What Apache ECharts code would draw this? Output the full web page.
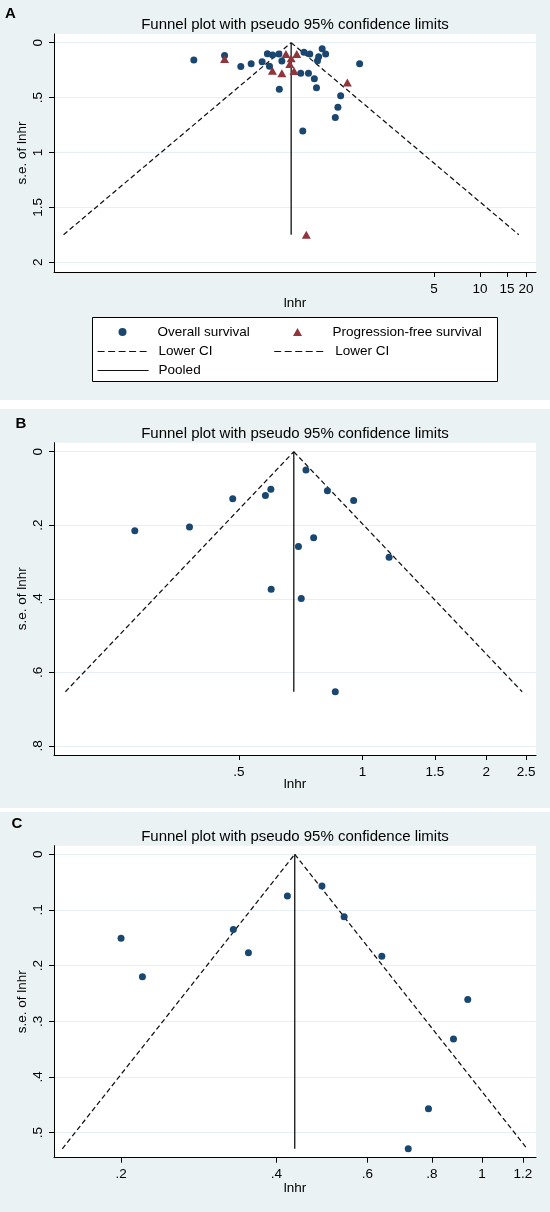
<!DOCTYPE html>
<html>
<head>
<meta charset="utf-8">
<script src="https://cdn.jsdelivr.net/npm/echarts@6/dist/echarts.min.js"></script>
<style>
html,body{margin:0;padding:0;background:#fff;}
#chart{width:550px;height:1212px;}
</style>
</head>
<body>
<div id="chart"></div>
<script>
// ---------- DATA (hazard ratio on log axis, standard error of ln HR) ----------
const TITLE = 'Funnel plot with pseudo 95% confidence limits';
const PANEL_LABELS = ['A', 'B', 'C'];

// Panel A
const A_OS_HR  = [0.134, 0.213, 0.272, 0.318, 0.375, 0.406, 0.419, 0.439, 0.483, 0.505, 0.486, 0.705, 0.769, 0.671, 0.754, 0.824, 0.851, 0.864, 0.879, 0.927, 0.977, 1.63, 1.225, 1.175, 1.13, 0.692];
const A_OS_SE  = [0.158, 0.118, 0.218, 0.191, 0.173, 0.100, 0.215, 0.112, 0.103, 0.167, 0.425, 0.088, 0.103, 0.279, 0.279, 0.328, 0.410, 0.164, 0.128, 0.055, 0.103, 0.191, 0.483, 0.588, 0.683, 0.804];
const A_PFS_HR = [0.213, 0.438, 0.505, 0.537, 0.581, 0.632, 0.569, 0.607, 1.355, 0.730];
const A_PFS_SE = [0.149, 0.255, 0.279, 0.103, 0.142, 0.103, 0.194, 0.258, 0.364, 1.75];
const A_POOLED = 0.581;
const A_SE_MAX = 1.75;
const A_X_TICKS = [5, 10, 15, 20];
const A_Y_TICKS = [0, 0.5, 1, 1.5, 2];

// Panel B
const B_HR = [0.728, 0.598, 0.580, 0.483, 0.821, 0.951, 0.379, 0.279, 0.760, 0.698, 1.16, 0.599, 0.709, 0.858];
const B_SE = [0.050, 0.102, 0.119, 0.128, 0.106, 0.133, 0.205, 0.215, 0.234, 0.258, 0.287, 0.374, 0.399, 0.653];
const B_POOLED = 0.68;
const B_SE_MAX = 0.653;
const B_X_TICKS = [0.5, 1, 1.5, 2, 2.5];
const B_Y_TICKS = [0, 0.2, 0.4, 0.6, 0.8];

// Panel C
const C_HR = [0.490, 0.420, 0.541, 0.330, 0.200, 0.353, 0.640, 0.220, 0.939, 0.881, 0.788, 0.720];
const C_SE = [0.057, 0.075, 0.112, 0.135, 0.151, 0.177, 0.183, 0.220, 0.261, 0.332, 0.457, 0.529];
const C_POOLED = 0.434;
const C_SE_MAX = 0.529;
const C_X_TICKS = [0.2, 0.4, 0.6, 0.8, 1, 1.2];
const C_Y_TICKS = [0, 0.1, 0.2, 0.3, 0.4, 0.5];

const LEGEND_NAMES = ['Overall survival', 'Progression-free survival', 'Lower CI', 'Lower CI ', 'Pooled'];

// ---------- STYLE ----------
const FONT = "'Liberation Sans', Arial, sans-serif";
const NAVY = '#1a476f';
const MAROON = '#90353b';
const BG = '#eaf2f3';
const GRIDC = '#e6eff1';
const INK = '#000';
const LINEC = '#111';
const Z = 1.959964;

const panels = [
  {hr: A_OS_HR, se: A_OS_SE, hr2: A_PFS_HR, se2: A_PFS_SE, pooled: A_POOLED, seMax: A_SE_MAX,
   xt: A_X_TICKS, yt: A_Y_TICKS, xmin: 0.01629, xmax: 23.26, ymin: -0.079, ymax: 2.09, nameGap: 24,
   grid: {left: 54, top: 34, width: 482, height: 238}, rect: [0, 0, 550, 400], titleY: 24.5, lab: [10.5, 13.5]},
  {hr: B_HR, se: B_SE, pooled: B_POOLED, seMax: B_SE_MAX,
   xt: B_X_TICKS, yt: B_Y_TICKS, xmin: 0.1774, xmax: 2.642, ymin: -0.0245, ymax: 0.825, nameGap: 22,
   grid: {left: 54, top: 442.7, width: 482, height: 312.3}, rect: [0, 409, 550, 399], titleY: 434, lab: [21, 424]},
  {hr: C_HR, se: C_SE, pooled: C_POOLED, seMax: C_SE_MAX,
   xt: C_X_TICKS, yt: C_Y_TICKS, xmin: 0.1483, xmax: 1.273, ymin: -0.0154, ymax: 0.545, nameGap: 23.5,
   grid: {left: 54, top: 845.7, width: 482, height: 312}, rect: [0, 812, 550, 400], titleY: 836.8, lab: [17, 824]}
];

function fmt(v) {
  let s = String(+(+v).toFixed(4));
  return s.replace(/^0\./, '.');
}

const grids = [], xAxes = [], yAxes = [], series = [], titles = [], graphics = [];

panels.forEach((p, i) => {
  graphics.push({type: 'rect', shape: {x: p.rect[0], y: p.rect[1], width: p.rect[2], height: p.rect[3]},
                 style: {fill: BG}, z: -10, silent: true});
  grids.push(Object.assign({show: true, backgroundColor: '#fff', borderWidth: 0, containLabel: false}, p.grid));
  titles.push({text: TITLE, left: p.grid.left + p.grid.width / 2, top: p.titleY - 9, textAlign: 'center', padding: 0,
               textStyle: {fontFamily: FONT, fontSize: 15, fontWeight: 'normal', color: INK, lineHeight: 18}});
  titles.push({text: PANEL_LABELS[i], left: p.lab[0], top: p.lab[1] - 8, textAlign: 'center', padding: 0,
               textStyle: {fontFamily: FONT, fontSize: 15, fontWeight: 'bold', color: INK, lineHeight: 16}});
  xAxes.push({
    type: 'log', logBase: 10, gridIndex: i, min: p.xmin, max: p.xmax,
    axisLine: {show: true, onZero: false, lineStyle: {color: INK, width: 1}},
    axisTick: {show: true, length: 5, customValues: p.xt, lineStyle: {color: INK}},
    axisLabel: {customValues: p.xt, formatter: fmt, margin: 10, color: INK, fontSize: 13.5, fontFamily: FONT},
    splitLine: {show: false}, minorTick: {show: false}, minorSplitLine: {show: false},
    name: 'lnhr', nameLocation: 'middle', nameGap: p.nameGap, nameMoveOverlap: false,
    nameTextStyle: {fontFamily: FONT, fontSize: 13.5, color: INK}
  });
  yAxes.push({
    type: 'value', gridIndex: i, inverse: true, min: p.ymin, max: p.ymax,
    axisLine: {show: true, onZero: false, lineStyle: {color: INK, width: 1}},
    axisTick: {show: true, length: 5, customValues: p.yt, lineStyle: {color: INK}},
    axisLabel: {customValues: p.yt, formatter: fmt, rotate: 90, margin: 9, color: INK, fontSize: 13.5, fontFamily: FONT},
    splitLine: {show: true, lineStyle: {color: GRIDC, width: 1}},
    name: 's.e. of lnhr', nameLocation: 'middle', nameGap: 25, nameRotate: 90, nameMoveOverlap: false,
    nameTextStyle: {fontFamily: FONT, fontSize: 13.5, color: INK}
  });

  const lo = p.pooled * Math.exp(-Z * p.seMax);
  const hi = p.pooled * Math.exp(Z * p.seMax);
  const dash = {color: LINEC, width: 1.25, type: [5, 3]};
  series.push({name: 'Lower CI', type: 'line', xAxisIndex: i, yAxisIndex: i, symbol: 'none', silent: true,
               data: [[lo, p.seMax], [p.pooled, 0]], lineStyle: dash, z: 3});
  series.push({name: 'Lower CI ', type: 'line', xAxisIndex: i, yAxisIndex: i, symbol: 'none', silent: true,
               data: [[p.pooled, 0], [hi, p.seMax]], lineStyle: dash, z: 3});
  series.push({name: 'Pooled', type: 'line', xAxisIndex: i, yAxisIndex: i, symbol: 'none', silent: true,
               data: [[p.pooled, 0], [p.pooled, p.seMax]], lineStyle: {color: LINEC, width: 1.3, type: 'solid'}, z: 3});
  series.push({name: 'Overall survival', type: 'scatter', xAxisIndex: i, yAxisIndex: i, symbol: 'circle', symbolSize: 7,
               itemStyle: {color: NAVY, opacity: 1}, data: p.hr.map((h, k) => [h, p.se[k]]), z: 4});
  if (p.hr2) {
    series.push({name: 'Progression-free survival', type: 'scatter', xAxisIndex: i, yAxisIndex: i, symbol: 'triangle',
                 symbolSize: [9, 8], itemStyle: {color: MAROON, opacity: 1}, data: p.hr2.map((h, k) => [h, p.se2[k]]), z: 5});
  }
});

// legend frame (panel A)
graphics.push({type: 'rect', shape: {x: 92.5, y: 317.5, width: 405, height: 64},
               style: {fill: '#fff', stroke: '#000', lineWidth: 1}, z: 1, silent: true});

const hidden = {color: 'rgba(0,0,0,0)', opacity: 0, borderWidth: 0};
const legendText = (w, pl) => ({fontFamily: FONT, fontSize: 13.5, color: INK, width: w, height: 9, lineHeight: 9,
                                overflow: 'none', padding: [0, 0, 0, pl]});
const lineLegend = (top, items) => ({
  left: 97, top: top, width: 400, orient: 'horizontal', padding: 0,
  itemGap: 15, itemWidth: 51, itemHeight: 9, selectedMode: false,
  textStyle: legendText(100, 5), data: items
});

const option = {
  animation: false,
  backgroundColor: '#fff',
  title: titles,
  grid: grids,
  xAxis: xAxes,
  yAxis: yAxes,
  series: series,
  graphic: graphics,
  legend: [
    {
      left: 118.5, top: 325, width: 400, orient: 'horizontal', padding: 0,
      itemGap: 15, itemWidth: 9, itemHeight: 8, selectedMode: false,
      textStyle: legendText(120.5, 25.5),
      data: [
        {name: LEGEND_NAMES[0], icon: 'circle', itemStyle: {color: NAVY}},
        {name: LEGEND_NAMES[1], icon: 'triangle', itemStyle: {color: MAROON}}
      ]
    },
    lineLegend(344.5, [
      {name: LEGEND_NAMES[2], itemStyle: hidden, lineStyle: {type: [7, 3.5], color: LINEC, width: 1.2}},
      {name: LEGEND_NAMES[3], itemStyle: hidden, lineStyle: {type: [7, 3.5], color: LINEC, width: 1.2}}
    ]),
    lineLegend(363.5, [
      {name: LEGEND_NAMES[4], itemStyle: hidden, lineStyle: {type: 'solid', color: LINEC, width: 1.2}}
    ])
  ]
};

const chart = echarts.init(document.getElementById('chart'), null, {renderer: 'canvas'});
chart.setOption(option);
</script>
</body>
</html>
